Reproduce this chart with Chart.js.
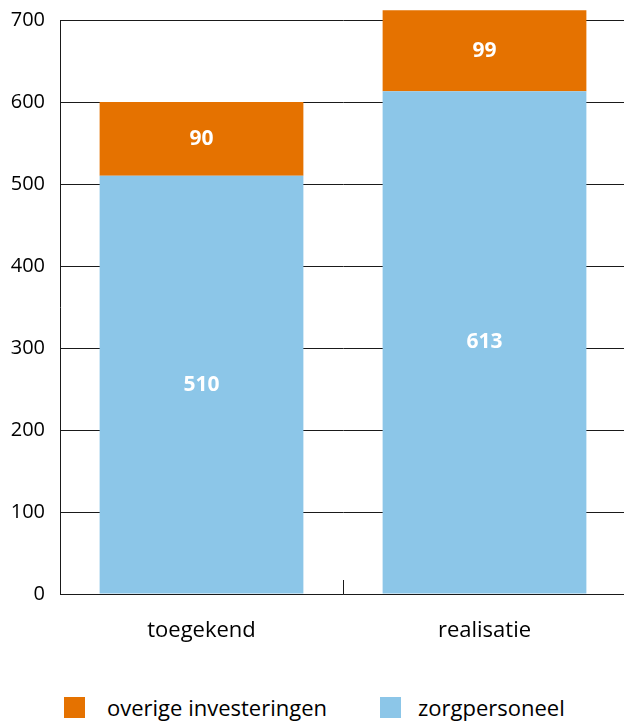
<!DOCTYPE html>
<html>
<head>
<meta charset="utf-8">
<script src="https://cdn.jsdelivr.net/npm/chart.js@4"></script>
<style>
  html, body { margin: 0; padding: 0; background: #fff; overflow: hidden; }
  #wrap { position: relative; width: 630px; height: 724px; }
  #grafico { position: absolute; left: 0; top: 0; }
  .leyenda { position: absolute; top: 697px; height: 21px; font-family: "Open Sans", sans-serif; font-size: 22px; color: #000; }
  .leyenda span.caja { position: absolute; left: 0; top: 0; width: 21px; height: 21px; }
  .leyenda span.txt { position: absolute; top: -5px; white-space: nowrap; line-height: 30px; }
</style>
</head>
<body>
<div id="wrap">
  <canvas id="grafico" width="630" height="680"></canvas>
  <div id="leyenda"></div>
</div>
<script>
const categorias = ["toegekend", "realisatie"];
const zorgpersoneel = [510, 613];
const overige = [90, 99];
const ticksY = [0, 100, 200, 300, 400, 500, 600, 700];

const colorAzul = "#8cc6e8";
const colorNaranja = "#e57200";
const fuente = '"Open Sans", sans-serif';

// etiquetas blancas dentro de cada segmento
const etiquetas = {
  id: "etiquetas",
  afterDatasetsDraw(chart) {
    const ctx = chart.ctx;
    ctx.save();
    ctx.fillStyle = "#fff";
    ctx.font = "bold 21px " + fuente;
    ctx.textAlign = "center";
    ctx.textBaseline = "middle";
    chart.data.datasets.forEach((ds, i) => {
      chart.getDatasetMeta(i).data.forEach((bar, j) => {
        ctx.fillText(String(ds.data[j]), bar.x, (bar.y + bar.base) / 2);
      });
    });
    ctx.restore();
  }
};

// marca pequeña entre las dos categorias
const separador = {
  id: "separador",
  afterDraw(chart) {
    const x = chart.scales.x;
    const ctx = chart.ctx;
    const px = (x.getPixelForValue(0) + x.getPixelForValue(1)) / 2;
    ctx.save();
    ctx.strokeStyle = "#1a1a1a";
    ctx.lineWidth = 1;
    ctx.beginPath();
    ctx.moveTo(Math.round(px) + 0.5, x.top);
    ctx.lineTo(Math.round(px) + 0.5, x.top - 14);
    ctx.stroke();
    ctx.restore();
  }
};

const ctx = document.getElementById("grafico").getContext("2d");
const miGrafico = new Chart(ctx, {
  type: "bar",
  data: {
    labels: categorias,
    datasets: [
      { label: "zorgpersoneel", data: zorgpersoneel, backgroundColor: colorAzul, clip: false },
      { label: "overige investeringen", data: overige, backgroundColor: colorNaranja, clip: false }
    ]
  },
  options: {
    responsive: false,
    animation: false,
    layout: { padding: { top: 20, right: 4, left: 0, bottom: 0 } },
    categoryPercentage: 1,
    barPercentage: 0.72,
    plugins: { legend: { display: false }, tooltip: { enabled: false } },
    scales: {
      x: {
        stacked: true,
        grid: { display: false },
        border: { color: "#1a1a1a", width: 1 },
        ticks: { color: "#000", font: { family: fuente, size: 22 }, padding: 16 },
        afterFit(s) { s.height = 86; s.paddingLeft = 0; s.paddingRight = 0; }
      },
      y: {
        stacked: true,
        min: 0,
        max: 700,
        afterBuildTicks(s) { s.ticks = ticksY.map(v => ({ value: v })); },
        grid: { color: "#1a1a1a", lineWidth: 1, drawTicks: false },
        border: { color: "#1a1a1a", width: 1 },
        ticks: { color: "#000", font: { family: fuente, size: 20 }, padding: 15 },
        afterFit(s) { s.width = 60; s.paddingTop = 0; s.paddingBottom = 0; }
      }
    }
  },
  plugins: [etiquetas, separador]
});

// leyenda en html
const leyendaItems = [
  { texto: "overige investeringen", color: colorNaranja, x: 64, tx: 43 },
  { texto: "zorgpersoneel", color: colorAzul, x: 380, tx: 38 }
];
const cont = document.getElementById("leyenda");
leyendaItems.forEach(it => {
  const d = document.createElement("div");
  d.className = "leyenda";
  d.style.left = it.x + "px";
  d.innerHTML = '<span class="caja" style="background:' + it.color + '"></span><span class="txt" style="left:' + it.tx + 'px">' + it.texto + '</span>';
  cont.appendChild(d);
});
</script>
</body>
</html>
